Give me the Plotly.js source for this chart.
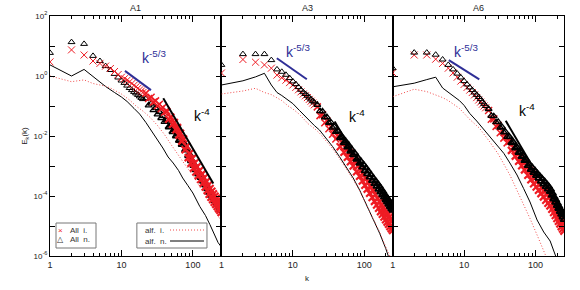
<!DOCTYPE html>
<html><head><meta charset="utf-8">
<script src="https://cdn.plot.ly/plotly-3.0.1.min.js"></script>
<style>html,body{margin:0;padding:0;background:#fff}#plot{width:580px;height:290px}</style>
</head><body><div id="plot"></div>
<script>
// ---- data: log10 of E_k ----
const kMark = [1,2,3,4,5,6,7,8,9,10,11,12,13,14,15,16,17,18,19,20,
  22,24,26,28,30,32,34,36,38,40,
  43,46,49,52,55,58,61,64,67,70,
  74,78,82,86,90,94,98,102,106,110,114,
  119,124,129,134,139,144,149,154,159,164,169,174,179,184,189,194,199,204,209,214,219,224,229,234,239,244,249];

const A1_allIon = [0.47,0.87,0.70,0.50,0.42,0.33,0.25,0.15,0.05,-0.04,-0.09,-0.14,-0.19,-0.25,-0.31,-0.36,-0.41,-0.46,-0.5,-0.55,
  -0.57,-0.75,-0.71,-0.87,-0.83,-0.99,-0.94,-1.09,-1.05,-1.21,
  -1.18,-1.44,-1.37,-1.61,-1.55,-1.79,-1.72,-1.97,-1.91,-2.17,
  -2.1,-2.46,-2.34,-2.72,-2.58,-2.91,-2.75,-3.07,-2.9,-3.2,-3.03,
  -3.33,-3.15,-3.45,-3.27,-3.57,-3.39,-3.7,-3.52,-3.82,-3.64,-3.94,-3.75,-4.04,-3.84,-4.12,-3.93,-4.21,-4.01,-4.28,-4.08,-4.35,-4.15,-4.42,-4.21,-4.48,-4.28,-4.55];
const A1_allNeu = [0.77,1.13,1.07,0.67,0.5,0.33,0.2,0.07,-0.05,-0.15,-0.23,-0.32,-0.4,-0.47,-0.53,-0.58,-0.63,-0.68,-0.73,-0.77,
  -0.75,-0.98,-0.92,-1.14,-1.07,-1.28,-1.2,-1.4,-1.33,-1.53,
  -1.48,-1.7,-1.64,-1.86,-1.79,-2.0,-1.93,-2.15,-2.08,-2.29,
  -2.23,-2.47,-2.42,-2.66,-2.62,-2.83,-2.83,-2.99,-2.98,-3.13,-3.12,
  -3.27,-3.25,-3.39,-3.37,-3.51,-3.49,-3.64,-3.62,-3.76,-3.74,-3.88,-3.85,-3.98,-3.94,-4.06,-4.03,-4.15,-4.11,-4.22,-4.18,-4.29,-4.25,-4.36,-4.31,-4.42,-4.38,-4.49];
const A1_alfIonK = [1,2,3,4,5,6,7,8,10,13,16,20,25,32,40,50,63,80,100,125,156,190,215,250];
const A1_alfIon  = [0.0,-0.19,-0.13,-0.25,-0.3,-0.34,-0.4,-0.47,-0.6,-0.8,-1.0,-1.17,-1.37,-1.65,-1.95,-2.3,-2.65,-3.0,-3.3,-3.7,-4.0,-4.35,-4.6,-4.85];
const A1_alfNeuK = [1,2,3,4,5,6,7,8,10,12,15,18,22,26,31,38,45,53,63,72,85,100,125,150,173,200,225,250];
const A1_alfNeu  = [0.37,0.0,0.22,0.0,-0.2,-0.35,-0.47,-0.55,-0.7,-0.85,-1.08,-1.27,-1.55,-1.8,-2.07,-2.4,-2.7,-2.9,-3.15,-3.4,-3.65,-3.9,-4.35,-4.65,-4.95,-5.3,-5.55,-5.7];

const A3_allIon = [0.1,0.55,0.46,0.37,0.26,0.03,-0.06,-0.14,-0.22,-0.3,-0.38,-0.46,-0.53,-0.6,-0.66,-0.72,-0.78,-0.84,-0.9,-0.96,
  -1.03,-1.32,-1.29,-1.56,-1.5,-1.76,-1.69,-1.94,-1.86,-2.1,
  -2.01,-2.36,-2.21,-2.54,-2.39,-2.71,-2.55,-2.86,-2.7,-3.0,
  -2.83,-3.19,-2.99,-3.34,-3.14,-3.5,-3.29,-3.64,-3.42,-3.77,-3.55,
  -3.91,-3.7,-4.05,-3.83,-4.18,-3.96,-4.3,-4.08,-4.41,-4.19,-4.52,-4.29,-4.61,-4.38,-4.7,-4.46,-4.79,-4.55,-4.87,-4.62,-4.94,-4.7,-5.02,-4.77,-5.09,-4.84,-5.15];
const A3_allNeu = [0.37,0.73,0.73,0.73,0.53,0.22,0.14,0.04,-0.07,-0.18,-0.27,-0.37,-0.46,-0.54,-0.6,-0.66,-0.72,-0.78,-0.83,-0.88,
  -0.96,-1.17,-1.18,-1.38,-1.37,-1.56,-1.54,-1.72,-1.69,-1.86,
  -1.84,-2.06,-2.03,-2.23,-2.18,-2.37,-2.32,-2.51,-2.45,-2.63,
  -2.58,-2.78,-2.73,-2.91,-2.85,-3.04,-2.96,-3.16,-3.07,-3.26,-3.17,
  -3.37,-3.29,-3.49,-3.4,-3.59,-3.5,-3.68,-3.59,-3.78,-3.68,-3.87,-3.78,-3.96,-3.86,-4.04,-3.95,-4.13,-4.03,-4.2,-4.1,-4.28,-4.17,-4.35,-4.24,-4.42,-4.31,-4.48];
const A3_alfIonK = [1,2,3,4,5,6,7,8.6,10,12.4,16.5,20,23.6,30,36,45,56,70,86,105,130,164,200,226,250];
const A3_alfIon  = [-0.6,-0.5,-0.41,-0.55,-0.62,-0.72,-0.82,-1.0,-1.1,-1.28,-1.6,-1.75,-1.9,-2.2,-2.42,-2.75,-3.08,-3.45,-3.82,-4.25,-4.72,-5.2,-5.7,-6.0,-6.2];
const A3_alfNeuK = [1,2,3,4,5,6,7,8,10,12.4,15,17.3,20,23.6,30,36,45,56,70,86,105,130,164,200,215,235];
const A3_alfNeu  = [-0.3,-0.16,-0.03,0.09,-0.3,-0.55,-0.65,-0.75,-0.92,-1.15,-1.35,-1.52,-1.65,-1.8,-2.1,-2.35,-2.69,-3.05,-3.4,-3.8,-4.25,-4.75,-5.24,-5.75,-5.97,-6.25];

const A6_allIon = [0.11,0.7,0.7,0.56,0.42,0.26,0.1,-0.04,-0.17,-0.28,-0.38,-0.47,-0.55,-0.63,-0.72,-0.8,-0.87,-0.94,-1.0,-1.06,
  -1.15,-1.44,-1.43,-1.68,-1.65,-1.89,-1.84,-2.07,-2.01,-2.23,
  -2.17,-2.48,-2.38,-2.67,-2.55,-2.84,-2.71,-2.99,-2.86,-3.13,
  -2.99,-3.31,-3.15,-3.46,-3.28,-3.59,-3.4,-3.7,-3.51,-3.81,-3.62,
  -3.92,-3.74,-4.03,-3.85,-4.14,-3.95,-4.24,-4.05,-4.33,-4.15,-4.44,-4.26,-4.55,-4.36,-4.65,-4.46,-4.75,-4.56,-4.84,-4.65,-4.93,-4.73,-5.02,-4.82,-5.1,-4.89,-5.17];
const A6_allNeu = [0.26,0.78,0.78,0.71,0.55,0.37,0.22,0.08,-0.05,-0.17,-0.28,-0.38,-0.47,-0.55,-0.63,-0.7,-0.77,-0.86,-0.93,-1.0,
  -1.1,-1.33,-1.34,-1.54,-1.53,-1.72,-1.7,-1.88,-1.86,-2.03,
  -2.03,-2.23,-2.21,-2.4,-2.38,-2.55,-2.52,-2.69,-2.66,-2.82,
  -2.79,-2.99,-2.94,-3.12,-3.05,-3.22,-3.15,-3.32,-3.25,-3.41,-3.33,
  -3.51,-3.43,-3.6,-3.52,-3.69,-3.61,-3.77,-3.69,-3.85,-3.79,-3.98,-3.92,-4.1,-4.04,-4.21,-4.14,-4.32,-4.25,-4.42,-4.35,-4.52,-4.44,-4.61,-4.54,-4.7,-4.62,-4.79];
const A6_alfIonK = [1,2,3,4,5,6,8.6,12,16.4,22.9,30,43.7,55,68,83.6,105,127,145];
const A6_alfIon  = [-0.69,-0.44,-0.52,-0.63,-0.72,-0.82,-1.08,-1.45,-1.74,-2.2,-2.6,-3.3,-3.8,-4.25,-4.75,-5.3,-5.75,-6.1];
const A6_alfNeuK = [1,2,3,4,5,6,7,8.6,10,12,15,18.3,22.9,30,36,43.7,55,68,83.6,105,130,160,190,205];
const A6_alfNeu  = [-0.36,-0.24,-0.12,-0.04,-0.4,-0.55,-0.65,-0.82,-0.98,-1.25,-1.5,-1.75,-2.02,-2.35,-2.58,-2.9,-3.3,-3.75,-4.2,-4.8,-5.2,-5.5,-5.97,-6.2];

// reference power-law segments (k, log10 E)
const A1_k53K = [11.2,25.9], A1_k53 = [0.17,-0.47];
const A1_k4K  = [38.5,193],  A1_k4  = [-0.74,-3.58];
const A3_k53K = [5.97,15.7], A3_k53 = [0.59,-0.11];
const A3_k4K  = [38.5,65.9], A3_k4  = [-1.52,-2.47];
const A6_k53K = [6.1,16.3],  A6_k53 = [0.53,-0.11];
const A6_k4K  = [38.2,88.3], A6_k4  = [-1.49,-2.97];

const panelNames = ['A1','A3','A6'];
const yLabelPow = [-6,-4,-2,0,2];
const yMinorPow = [-5,-3,-1,1];
const xTicks = [1,10,100];

// ---- build ----
const E = a => a.map(v => Math.pow(10, v));
const RED = '#ee1c24', BLUE = '#2e2e96', DOT = '#f04a4a';
// marker stroke: thin for the isolated low-k symbols, heavier where the symbols pile up
const ionStroke = kMark.map(k => k <= 20 ? 1 : (k <= 40 ? 1.5 : 2.2));
const neuStroke = kMark.map(k => k <= 20 ? 1 : (k <= 40 ? 1.3 : 1.8));
const panels = [
  {ion:A1_allIon, neu:A1_allNeu, aiK:A1_alfIonK, ai:A1_alfIon, anK:A1_alfNeuK, an:A1_alfNeu, k53K:A1_k53K, k53:A1_k53, k4K:A1_k4K, k4:A1_k4, t53:[18,0.62], t4:[97,-1.3], redTop:true},
  {ion:A3_allIon, neu:A3_allNeu, aiK:A3_alfIonK, ai:A3_alfIon, anK:A3_alfNeuK, an:A3_alfNeu, k53K:A3_k53K, k53:A3_k53, k4K:A3_k4K, k4:A3_k4, t53:[7.6,0.82], t4:[58,-1.33], redTop:false},
  {ion:A6_allIon, neu:A6_allNeu, aiK:A6_alfIonK, ai:A6_alfIon, anK:A6_alfNeuK, an:A6_alfNeu, k53K:A6_k53K, k53:A6_k53, k4K:A6_k4K, k4:A6_k4, t53:[6.7,0.82], t4:[55,-1.13], redTop:false}
];
const traces = [], annotations = [], shapes = [];
const layout = {
  width:580, height:290, margin:{l:50, r:16, t:16, b:34},
  paper_bgcolor:'#fff', plot_bgcolor:'#fff', showlegend:false,
  font:{family:'Liberation Sans, Arial, sans-serif', size:9, color:'#222'}
};
const doms = [[0,0.3333],[0.3335,0.6667],[0.6667,1]];
panels.forEach((p,i) => {
  const n = i===0 ? '' : String(i+1);
  const xa = 'x'+n, ya = 'y'+n;
  traces.push({x:p.anK, y:E(p.an), xaxis:xa, yaxis:ya, mode:'lines', line:{color:'#000', width:1}});
  traces.push({x:p.aiK, y:E(p.ai), xaxis:xa, yaxis:ya, mode:'lines', line:{color:DOT, width:1, dash:'1px,2px'}});
  const neuTr = {x:kMark, y:E(p.neu), xaxis:xa, yaxis:ya, mode:'markers', marker:{symbol:'triangle-up-open', size:6, color:'#000', line:{width:neuStroke, color:'#000'}}};
  const ionTr = {x:kMark, y:E(p.ion), xaxis:xa, yaxis:ya, mode:'markers', marker:{symbol:'x-thin', size:7, color:RED, line:{width:ionStroke, color:RED}}};
  if (p.redTop) { traces.push(neuTr, ionTr); } else { traces.push(ionTr, neuTr); }
  traces.push({x:p.k53K, y:E(p.k53), xaxis:xa, yaxis:ya, mode:'lines', line:{color:BLUE, width:2}});
  traces.push({x:p.k4K, y:E(p.k4), xaxis:xa, yaxis:ya, mode:'lines', line:{color:'#000', width:2}});
  annotations.push({xref:xa, yref:ya, x:Math.log10(p.t53[0]), y:p.t53[1], text:'k<sup>-5/3</sup>', showarrow:false, xanchor:'left', yanchor:'middle', font:{size:14, color:BLUE}});
  annotations.push({xref:xa, yref:ya, x:Math.log10(p.t4[0]), y:p.t4[1], text:'k<sup>-4</sup>', showarrow:false, xanchor:'left', yanchor:'middle', font:{size:14, color:'#000'}});
  annotations.push({xref:'paper', yref:'paper', x:(doms[i][0]+doms[i][1])/2, y:1.033, text:panelNames[i], showarrow:false, xanchor:'center', yanchor:'middle', font:{size:9, color:'#222'}});
  const xax = {
    type:'log', range:[0, Math.log10(250)], domain:doms[i], anchor:ya,
    showline:true, linecolor:'#000', linewidth:1, mirror:'ticks',
    ticks:'inside', ticklen:6, tickcolor:'#000', showgrid:false, zeroline:false,
    tickvals:xTicks, ticktext:xTicks.map(String), tickfont:{size:9, color:'#222'},
    minor:{ticks:'inside', ticklen:3, tickcolor:'#000', dtick:'D1', showgrid:false}
  };
  if (i===1) xax.title = {text:'k', font:{size:8, color:'#222'}, standoff:6};
  layout['xaxis'+n] = xax;
  const yax = {
    type:'log', range:[-6,2], anchor:xa,
    showline:true, linecolor:'#000', linewidth:1, mirror:'ticks',
    ticks:'inside', ticklen:5, tickcolor:'#000', showgrid:false, zeroline:false,
    minor:{ticks:'inside', ticklen:5, tickcolor:'#000', tickvals:E(yMinorPow), showgrid:false},
    tickvals:E(yLabelPow)
  };
  if (i===0) {
    yax.ticktext = yLabelPow.map(v => '10<sup>'+v+'</sup>');
    yax.tickfont = {size:8, color:'#222'};
    yax.title = {text:'E<sub>k</sub>(k)', font:{size:8, color:'#222'}, standoff:4};
  } else {
    yax.showticklabels = false;
  }
  layout['yaxis'+n] = yax;
});
// legends (paper coords)
shapes.push({type:'rect', xref:'paper', yref:'paper', x0:0.0117, x1:0.0895, y0:0.0333, y1:0.1375, line:{color:'#777', width:1}, fillcolor:'rgba(0,0,0,0)'});
shapes.push({type:'rect', xref:'paper', yref:'paper', x0:0.169, x1:0.3054, y0:0.0333, y1:0.1375, line:{color:'#777', width:1}, fillcolor:'rgba(0,0,0,0)'});
shapes.push({type:'line', xref:'paper', yref:'paper', x0:0.2335, x1:0.2996, y0:0.1083, y1:0.1083, line:{color:DOT, width:1, dash:'1px,2px'}});
shapes.push({type:'line', xref:'paper', yref:'paper', x0:0.2335, x1:0.2996, y0:0.0625, y1:0.0625, line:{color:'#000', width:1}});
const legTxt = [
  [0.0214,0.1083,'<span style="color:'+RED+'">×</span>','center'],
  [0.035,0.1083,'All  i.','left'],
  [0.0214,0.0667,'△','center'],
  [0.035,0.0667,'All  n.','left'],
  [0.181,0.1083,'alf.  i.','left'],
  [0.181,0.0625,'alf.  n.','left']
];
legTxt.forEach(t => annotations.push({xref:'paper', yref:'paper', x:t[0], y:t[1], text:t[2], showarrow:false, xanchor:t[3], yanchor:'middle', font:{size:8, color:'#333'}}));
layout.annotations = annotations;
layout.shapes = shapes;
Plotly.newPlot('plot', traces, layout, {staticPlot:true, displayModeBar:false});
</script></body></html>
